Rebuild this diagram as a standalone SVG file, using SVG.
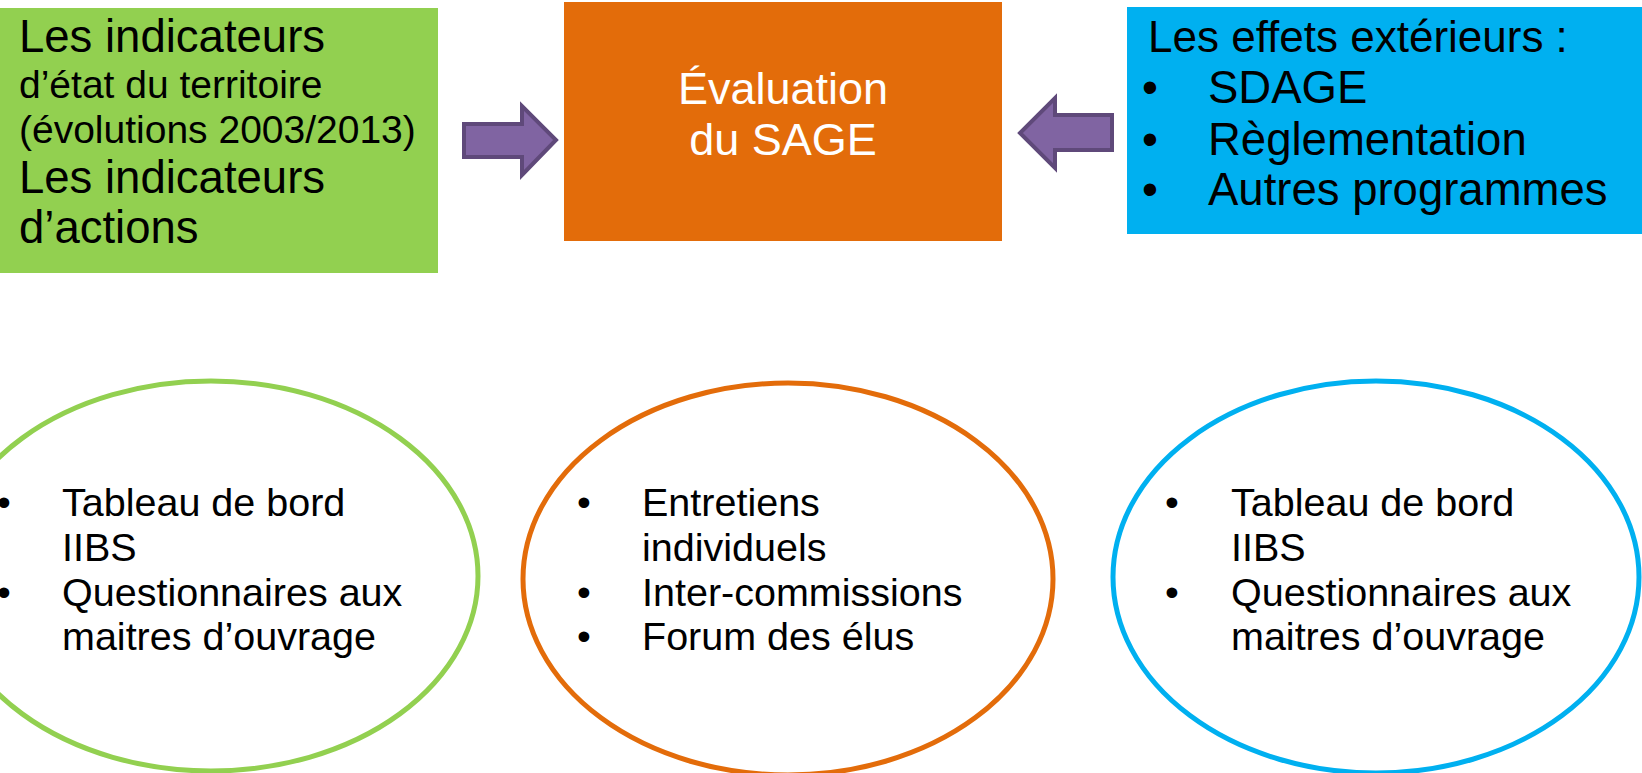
<svg xmlns="http://www.w3.org/2000/svg" width="1642" height="773" viewBox="0 0 1642 773">
<style>
text{font-family:"Liberation Sans",Arial,sans-serif;fill:#000}
.big{font-size:45.5px}
.small{font-size:39px}
.el{font-size:39.5px}
.arrow{fill:#8064A2;stroke:#5F497A;stroke-width:4;stroke-linejoin:miter}
.ell{fill:#fff;stroke-width:5}
</style>
<rect width="1642" height="773" fill="#fff"/>
<g id="connectors">
<polygon class="arrow" points="464,124 522,124 522,106 556,140 522,175 522,157 464,157"/>
<polygon class="arrow" points="1112,115 1055,115 1055,98 1020,133 1055,168 1055,150 1112,150"/>
</g>
<g id="indicateurs">
<rect x="0" y="8" width="438" height="265" fill="#92D050"/>
<text x="19" y="52" class="big">Les indicateurs</text>
<text x="19" y="98" class="small">d’état du territoire</text>
<text x="19" y="143" class="small">(évolutions 2003/2013)</text>
<text x="19" y="193" class="big">Les indicateurs</text>
<text x="19" y="243" class="big">d’actions</text>
</g>
<g id="evaluation">
<rect x="564" y="2" width="438" height="239" fill="#E36C0A"/>
<text x="783" y="104" text-anchor="middle" style="fill:#fff;font-size:45px">Évaluation</text>
<text x="783" y="155" text-anchor="middle" style="fill:#fff;font-size:45px">du SAGE</text>
</g>
<g id="effets">
<rect x="1127" y="7" width="515" height="227" fill="#00B0F0"/>
<text x="1148" y="52" style="font-size:44px">Les effets extérieurs :</text>
<text x="1142" y="103" class="big">•</text>
<text x="1208" y="103" class="big">SDAGE</text>
<text x="1142" y="155" class="big">•</text>
<text x="1208" y="155" class="big">Règlementation</text>
<text x="1142" y="205" class="big">•</text>
<text x="1208" y="205" class="big">Autres programmes</text>
</g>
<g id="outils-indicateurs">
<ellipse cx="211" cy="576" rx="267" ry="195" class="ell" stroke="#92D050"/>
<text x="-3" y="516" class="el">•</text>
<text x="62" y="516" class="el">Tableau de bord</text>
<text x="62" y="561" class="el">IIBS</text>
<text x="-3" y="606" class="el">•</text>
<text x="62" y="606" class="el">Questionnaires aux</text>
<text x="62" y="650" class="el">maitres d’ouvrage</text>
</g>
<g id="outils-evaluation">
<ellipse cx="788" cy="579" rx="265" ry="196" class="ell" stroke="#E36C0A"/>
<text x="577" y="516" class="el">•</text>
<text x="642" y="516" class="el">Entretiens</text>
<text x="642" y="561" class="el">individuels</text>
<text x="577" y="606" class="el">•</text>
<text x="642" y="606" class="el">Inter-commissions</text>
<text x="577" y="650" class="el">•</text>
<text x="642" y="650" class="el">Forum des élus</text>
</g>
<g id="outils-effets">
<ellipse cx="1376" cy="577" rx="263" ry="196" class="ell" stroke="#00B0F0"/>
<text x="1165" y="516" class="el">•</text>
<text x="1231" y="516" class="el">Tableau de bord</text>
<text x="1231" y="561" class="el">IIBS</text>
<text x="1165" y="606" class="el">•</text>
<text x="1231" y="606" class="el">Questionnaires aux</text>
<text x="1231" y="650" class="el">maitres d’ouvrage</text>
</g>
</svg>
